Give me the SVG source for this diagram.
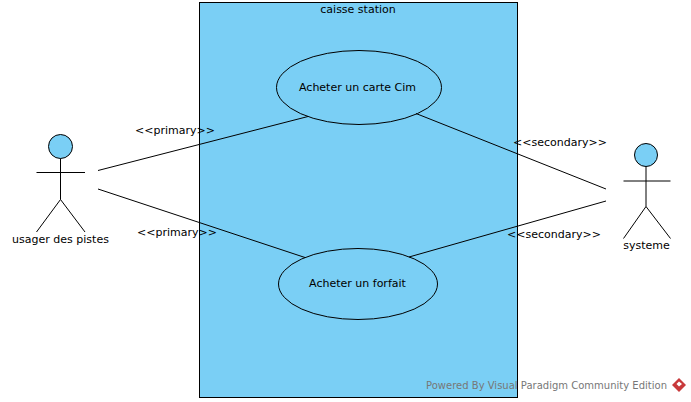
<svg xmlns="http://www.w3.org/2000/svg" width="691" height="402" viewBox="0 0 691 402">
<style>
text{font-family:"DejaVu Sans",sans-serif;font-size:11px;fill:#000}
.s{fill:#7acff5;stroke:#000;stroke-width:1}
.l{fill:none;stroke:#000;stroke-width:1}
.m{text-anchor:middle}
</style>
<rect width="691" height="402" fill="#fff"/>
<g id="system"><rect class="s" x="199.500" y="2.500" width="318" height="395"/><text class="m" x="358" y="13">caisse station</text></g>
<g id="usecase1"><ellipse class="s" cx="359" cy="87.500" rx="82.500" ry="37"/><text class="m" x="357.500" y="91">Acheter un carte Cim</text></g>
<g id="usecase2"><ellipse class="s" cx="358" cy="284" rx="79.500" ry="35.500"/><text class="m" x="357.500" y="287">Acheter un forfait</text></g>
<g id="actor1"><circle class="s" cx="60.500" cy="146.500" r="12"/><path class="l" d="M60.500 158.500V199.500M36.500 172.500H85M36.500 232L60.500 199.500L85 232"/><text class="m" x="60.500" y="243">usager des pistes</text></g>
<g id="actor2"><circle class="s" cx="646" cy="155" r="11.500"/><path class="l" d="M646 166.500V206.500M623.500 181H670.500M623.500 238.500L646 206.500L670.500 238.500"/><text class="m" x="646.500" y="249">systeme</text></g>
<g id="connectors">
<path class="l" d="M98 170.500L308 116.500M98 189L305 257.500M416 113.500L606 189M409 257L606 201"/>
<text x="135" y="134">&lt;&lt;primary&gt;&gt;</text>
<text x="137" y="236">&lt;&lt;primary&gt;&gt;</text>
<text x="513" y="146">&lt;&lt;secondary&gt;&gt;</text>
<text x="507" y="238">&lt;&lt;secondary&gt;&gt;</text>
</g>
<g id="watermark"><text x="426" y="389" textLength="241" style="fill:#777;font-size:10px">Powered By Visual Paradigm Community Edition</text><path d="M679 378L686 385L679 392L672 385Z" fill="#c8393b"/><path d="M679 381.500L682 384L679 386.500L676.500 384Z" fill="#fff"/></g>
</svg>
